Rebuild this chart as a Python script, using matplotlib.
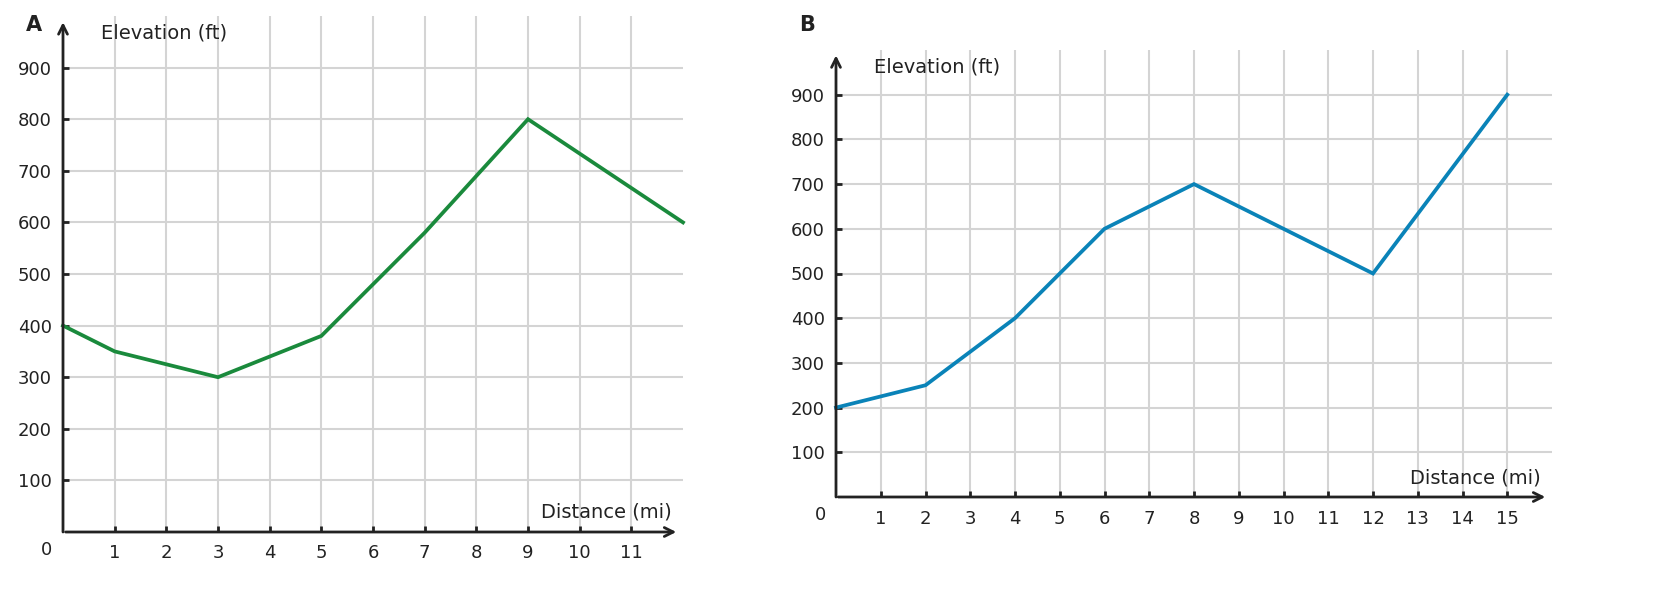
import matplotlib
matplotlib.use("Agg")
import matplotlib.pyplot as plt
from matplotlib.transforms import offset_copy

plt.rcParams["font.family"] = ["DejaVu Sans"]

# Panel A data
a_dist = [0, 1, 3, 5, 7, 9, 12]
a_elev = [400, 350, 300, 380, 580, 800, 600]
a_xticks = list(range(1, 12))
# Panel B data
b_dist = [0, 2, 4, 6, 8, 12, 15]
b_elev = [200, 250, 400, 600, 700, 500, 900]
b_xticks = list(range(1, 16))
yticks = [100, 200, 300, 400, 500, 600, 700, 800, 900]

TXT = "#222222"
GRID = "#d4d4d4"

fig = plt.figure(figsize=(16.7, 6.15), dpi=100)
axA = fig.add_axes([63/1670, 1-532/615, (683-63)/1670, (532-16)/615])
axB = fig.add_axes([836/1670, 1-497/615, (1552-836)/1670, (497-50)/615])


def setup(ax, xs, ys, xticks, xmax, color, xarrow_end):
    ax.set_xlim(0, xmax)
    ax.set_ylim(0, 1000)
    for s in ax.spines.values():
        s.set_visible(False)
    for t in xticks:
        ax.axvline(t, color=GRID, lw=1.5, zorder=0)
    for t in yticks:
        ax.axhline(t, color=GRID, lw=1.5, zorder=0)
    ax.set_xticks(xticks)
    ax.set_yticks(yticks)
    ax.set_xticklabels([str(t) for t in xticks])
    ax.set_yticklabels([str(t) for t in yticks])
    ax.tick_params(direction="in", length=4, width=2, color=TXT,
                   labelsize=13, labelcolor=TXT)
    ax.tick_params(axis="x", pad=9)
    ax.tick_params(axis="y", pad=8)
    ax.plot(xs, ys, color=color, lw=2.7, solid_joinstyle="miter", zorder=3, clip_on=False)
    # axes with arrows
    ax.annotate("", xy=(0, 988), xytext=(0, 0), xycoords="data",
                arrowprops=dict(arrowstyle="->", lw=2, color=TXT,
                                mutation_scale=16, shrinkA=0, shrinkB=0),
                annotation_clip=False)
    ax.annotate("", xy=(xarrow_end, 0), xytext=(0.05, 0), xycoords="data",
                arrowprops=dict(arrowstyle="->", lw=2, color=TXT,
                                mutation_scale=16, shrinkA=0, shrinkB=0),
                annotation_clip=False)
    tr = offset_copy(ax.transData, fig=fig, x=-16, y=-18, units="dots")
    ax.text(0, 0, "0", transform=tr, ha="center", va="center",
            fontsize=13, color=TXT)


setup(axA, a_dist, a_elev, a_xticks, 12, "#1a8a3c", 11.87)
setup(axB, b_dist, b_elev, b_xticks, 16, "#0a83b8", 15.85)

# Labels
fig.text(101/1670, 1-33/615, "Elevation (ft)", fontsize=14, color=TXT, va="center", ha="left")
fig.text(672/1670, 1-512/615, "Distance (mi)", fontsize=14, color=TXT, va="center", ha="right")
fig.text(874/1670, 1-67/615, "Elevation (ft)", fontsize=14, color=TXT, va="center", ha="left")
fig.text(1541/1670, 1-478/615, "Distance (mi)", fontsize=14, color=TXT, va="center", ha="right")
fig.text(34/1670, 1-25/615, "A", fontsize=15, fontweight="bold", color=TXT, va="center", ha="center")
fig.text(807/1670, 1-25/615, "B", fontsize=15, fontweight="bold", color=TXT, va="center", ha="center")

fig.savefig("out.png", dpi=100, facecolor="white")
